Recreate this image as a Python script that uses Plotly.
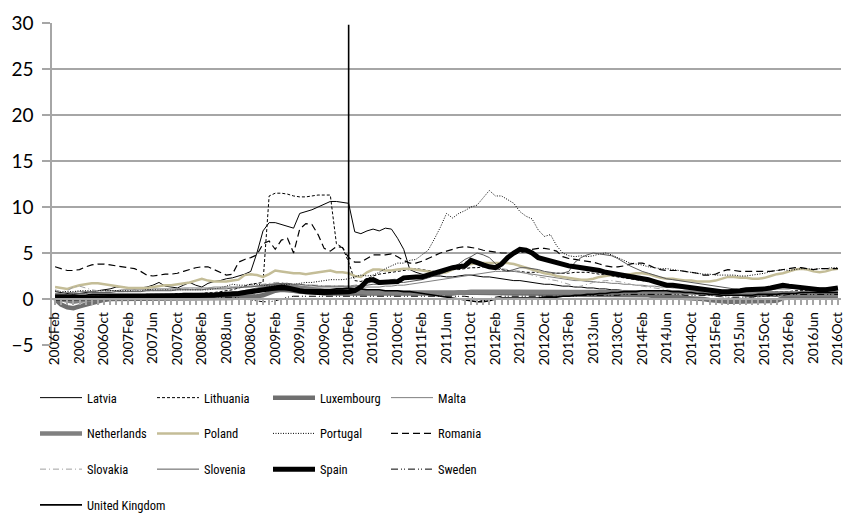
import pandas as pd
import plotly.graph_objects as go

# ---------------- data ----------------
MONTHS = pd.date_range("2006-02-01", periods=129, freq="MS").strftime("%Y%b").tolist()
TICK_LABELS = [m if i % 4 == 0 else "" for i, m in enumerate(MONTHS)]

LATVIA = [0.8, 0.7, 0.6, 0.5, 0.6, 0.7, 0.8, 0.9, 1.0, 1.1, 1.3,
          1.3, 1.2, 1.1, 1.2, 1.3, 1.5, 1.8, 1.4, 1.3, 1.2, 1.5, 1.8,
          1.5, 1.3, 1.7, 1.9, 2.0, 2.2, 2.3, 2.5, 2.7, 3.0, 5.0, 7.4,
          8.3, 8.3, 8.1, 7.9, 7.7, 9.3, 9.5, 9.7, 10.0, 10.3, 10.6, 10.6,
          10.5, 10.4, 7.3, 7.1, 7.4, 7.6, 7.4, 7.7, 7.6, 6.6, 5.4, 3.2,
          2.9, 2.7, 2.6, 2.5, 2.5, 2.4, 2.4, 2.5, 2.6, 2.6, 2.5, 2.4,
          2.4, 2.3, 2.2, 2.1, 2.0, 2.0, 1.9, 1.8, 1.7, 1.6, 1.6, 1.5,
          1.4, 1.4, 1.3, 1.3, 1.2, 1.2, 1.1, 1.1, 1.0, 1.0, 0.9, 0.9,
          0.9, 0.8, 0.8, 0.8, 0.7, 0.7, 0.7, 0.6, 0.6, 0.6, 0.5, 0.5,
          0.5, 0.5, 0.4, 0.4, 0.4, 0.4, 0.3, 0.3, 0.3, 0.3, 0.3, 0.3,
          0.4, 0.4, 0.4, 0.5, 0.5, 0.5, 0.5, 0.6, 0.6, 0.6]

LITHUANIA = [0.3, 0.3, 0.2, 0.2, 0.2, 0.3, 0.3, 0.3, 0.3, 0.3, 0.4,
             0.4, 0.4, 0.4, 0.4, 0.5, 0.5, 0.5, 0.5, 0.5, 0.6, 0.6, 0.6,
             0.6, 0.6, 0.7, 0.7, 0.8, 0.9, 1.0, 1.2, 1.4, 1.6, 1.7, 1.8,
             11.2, 11.5, 11.5, 11.4, 11.2, 11.1, 11.1, 11.2, 11.3, 11.3, 11.3, 6.0,
             5.6, 4.0, 2.0, 1.9, 2.2, 2.5, 2.7, 2.8, 2.9, 3.0, 3.1, 3.2,
             3.3, 3.2, 3.1, 3.0, 3.0, 3.1, 3.2, 3.2, 3.3, 3.4, 3.4, 3.5,
             3.4, 3.3, 3.2, 3.1, 3.0, 3.0, 2.9, 2.9, 2.9, 2.8, 2.8, 2.8,
             2.8, 2.8, 2.9, 2.9, 2.9, 2.8, 2.7, 2.6, 2.5, 2.4, 2.3, 2.2,
             2.1, 2.0, 1.9, 1.8, 1.7, 1.6, 1.5, 1.4, 1.3, 1.2, 1.1, 1.0,
             1.0, 0.9, 0.9, 0.8, 0.8, 0.8, 0.7, 0.7, 0.7, 0.7, 0.7, 0.8,
             0.8, 0.8, 0.9, 0.9, 0.9, 1.0, 1.0, 1.0, 1.0, 1.1]

LUXEMBOURG = [0.0, -0.6, -0.9, -1.0, -0.8, -0.6, -0.4, -0.2, -0.1, 0.0, 0.0,
              0.0, 0.0, 0.0, 0.0, 0.0, 0.0, 0.0, 0.1, 0.1, 0.1, 0.1, 0.1,
              0.1, 0.1, 0.1, 0.1, 0.1, 0.1, 0.1, 0.2, 0.2, 0.2, 0.3, 0.4,
              0.7, 0.9, 1.0, 1.0, 0.9, 0.8, 0.8, 0.7, 0.7, 0.6, 0.6, 0.6,
              0.6, 0.6, 0.5, 0.5, 0.5, 0.5, 0.5, 0.5, 0.5, 0.5, 0.5, 0.5,
              0.5, 0.5, 0.5, 0.6, 0.6, 0.6, 0.6, 0.7, 0.7, 0.7, 0.7, 0.7,
              0.7, 0.6, 0.6, 0.6, 0.7, 0.7, 0.7, 0.6, 0.6, 0.5, 0.5, 0.5,
              0.4, 0.4, 0.4, 0.4, 0.4, 0.4, 0.4, 0.4, 0.4, 0.4, 0.4, 0.4,
              0.4, 0.4, 0.4, 0.3, 0.3, 0.3, 0.2, 0.2, 0.1, 0.1, 0.0, 0.0,
              -0.1, -0.2, -0.3, -0.3, -0.3, -0.3, -0.3, -0.3, -0.3, -0.3, -0.2, -0.2,
              0.1, 0.2, 0.2, 0.2, 0.2, 0.2, 0.2, 0.2, 0.2, 0.2]

MALTA = [0.6, 0.6, 0.7, 0.7, 0.8, 0.8, 0.8, 0.9, 0.9, 0.9, 0.9,
         1.0, 1.0, 1.0, 1.0, 1.0, 1.1, 1.1, 1.1, 1.1, 1.1, 1.2, 1.2,
         1.2, 1.2, 1.2, 1.3, 1.3, 1.3, 1.3, 1.3, 1.3, 1.4, 1.4, 1.4,
         1.4, 1.4, 1.4, 1.4, 1.4, 1.3, 1.3, 1.3, 1.3, 1.3, 1.3, 1.3,
         1.3, 1.3, 1.3, 1.3, 1.3, 1.3, 1.3, 1.4, 1.4, 1.5, 1.5, 1.6,
         1.7, 1.8, 1.9, 2.0, 2.1, 2.2, 2.3, 2.4, 2.5, 2.6, 2.7, 2.8,
         2.9, 3.0, 3.0, 3.0, 3.0, 2.9, 2.8, 2.7, 2.6, 2.5, 2.4, 2.3,
         2.2, 2.1, 2.0, 2.0, 1.9, 1.9, 1.8, 1.8, 1.7, 1.7, 1.6, 1.6,
         1.5, 1.5, 1.4, 1.4, 1.3, 1.3, 1.2, 1.2, 1.1, 1.1, 1.0, 1.0,
         1.0, 0.9, 0.9, 0.9, 0.8, 0.8, 0.8, 0.8, 0.8, 0.8, 0.8, 0.8,
         0.8, 0.8, 0.8, 0.8, 0.8, 0.8, 0.8, 0.8, 0.8, 0.8]

NETHERLANDS = [0.1, 0.0, -0.2, -0.3, -0.2, -0.1, 0.0, 0.1, 0.1, 0.2, 0.2,
               0.2, 0.2, 0.2, 0.3, 0.3, 0.3, 0.3, 0.3, 0.3, 0.3, 0.3, 0.3,
               0.4, 0.4, 0.4, 0.4, 0.4, 0.5, 0.5, 0.6, 0.7, 0.8, 1.0, 1.2,
               1.4, 1.5, 1.5, 1.4, 1.3, 1.2, 1.1, 1.0, 1.0, 0.9, 0.9, 0.9,
               0.9, 0.8, 0.8, 0.8, 0.7, 0.7, 0.7, 0.7, 0.7, 0.7, 0.7, 0.7,
               0.6, 0.6, 0.6, 0.6, 0.6, 0.6, 0.6, 0.7, 0.7, 0.8, 0.8, 0.8,
               0.8, 0.8, 0.8, 0.8, 0.8, 0.8, 0.8, 0.7, 0.7, 0.7, 0.7, 0.7,
               0.7, 0.7, 0.7, 0.7, 0.7, 0.8, 0.8, 0.8, 0.8, 0.8, 0.8, 0.8,
               0.8, 0.8, 0.8, 0.8, 0.8, 0.8, 0.7, 0.7, 0.7, 0.7, 0.7, 0.6,
               0.6, 0.5, 0.5, 0.5, 0.5, 0.5, 0.5, 0.5, 0.5, 0.5, 0.5, 0.5,
               0.5, 0.5, 0.5, 0.5, 0.5, 0.5, 0.5, 0.5, 0.5, 0.5]

POLAND = [1.3, 1.2, 1.1, 1.3, 1.5, 1.6, 1.7, 1.7, 1.6, 1.5, 1.4,
          1.3, 1.2, 1.2, 1.2, 1.2, 1.3, 1.4, 1.5, 1.5, 1.6, 1.7, 1.8,
          2.0, 2.2, 2.0, 1.9, 1.9, 1.9, 2.0, 2.1, 2.6, 2.7, 2.6, 2.4,
          2.7, 3.1, 3.0, 2.9, 2.8, 2.8, 2.7, 2.8, 2.9, 3.0, 3.1, 2.9,
          2.9, 2.8, 2.5, 2.4, 2.9, 3.2, 3.2, 3.1, 3.1, 3.2, 3.3, 3.3,
          3.2, 3.1, 3.0, 2.9, 2.8, 2.9, 3.2, 3.5, 3.7, 3.8, 3.9, 3.9,
          3.9, 3.9, 3.9, 3.9, 3.8, 3.6, 3.4, 3.2, 3.0, 2.8, 2.7, 2.5,
          2.4, 2.3, 2.2, 2.1, 2.1, 2.2, 2.4, 2.5, 2.6, 2.6, 2.6, 2.7,
          2.8, 2.8, 2.7, 2.5, 2.3, 2.2, 2.2, 2.1, 2.0, 2.0, 1.9, 1.9,
          1.9, 2.0, 2.2, 2.4, 2.4, 2.3, 2.3, 2.2, 2.2, 2.3, 2.5, 2.7,
          2.8, 3.0, 3.2, 3.3, 3.2, 3.0, 2.9, 3.0, 3.2, 3.3]

PORTUGAL = [0.9, 0.8, 0.8, 0.8, 0.9, 0.9, 0.9, 0.9, 0.9, 0.9, 0.9,
            0.9, 0.9, 0.9, 0.9, 1.0, 1.0, 1.0, 1.0, 1.0, 1.0, 1.0, 1.0,
            1.0, 1.0, 1.0, 1.1, 1.2, 1.4, 1.6, 1.5, 1.5, 1.6, 1.6, 1.5,
            1.4, 1.4, 1.5, 1.6, 1.6, 1.7, 1.8, 1.8, 1.9, 2.0, 2.1, 2.1,
            2.1, 2.2, 2.4, 2.6, 2.5, 2.6, 2.9, 3.3, 3.6, 3.9, 3.9, 4.2,
            4.3, 4.8, 5.3, 6.5, 7.8, 9.3, 8.8, 9.3, 9.6, 10.0, 10.2, 11.0,
            11.8, 11.2, 11.2, 10.8, 10.4, 9.5, 9.0, 8.7, 7.5, 6.8, 7.0, 5.8,
            5.0, 4.7, 4.6, 4.7, 4.6, 4.7, 4.9, 5.0, 4.8, 4.5, 4.2, 3.9,
            3.8, 3.7, 3.5, 3.4, 3.3, 3.3, 3.2, 3.1, 3.0, 2.9, 2.8, 2.7,
            2.7, 2.6, 2.6, 2.6, 2.6, 2.5, 2.5, 2.6, 2.7, 2.8, 3.0, 3.1,
            3.2, 3.1, 3.2, 3.3, 3.3, 3.2, 3.3, 3.3, 3.4, 3.4]

ROMANIA = [3.5, 3.3, 3.1, 3.1, 3.2, 3.5, 3.7, 3.8, 3.8, 3.7, 3.6,
           3.5, 3.4, 3.3, 3.0, 2.6, 2.5, 2.6, 2.7, 2.7, 2.8, 3.0, 3.2,
           3.4, 3.5, 3.5, 3.2, 2.9, 2.6, 2.7, 4.0, 4.3, 4.5, 4.8, 6.0,
           6.3, 5.4, 6.4, 6.6, 5.0, 7.6, 8.2, 8.1, 7.0, 5.5, 5.2, 5.7,
           5.6, 4.5, 4.0, 4.0, 4.4, 4.8, 4.8, 4.8, 4.9, 4.6, 4.2, 3.9,
           3.9, 4.1, 4.4, 4.7, 5.0, 5.2, 5.4, 5.6, 5.7, 5.6, 5.5, 5.3,
           5.2, 5.1, 5.0, 5.0, 4.9, 5.0, 5.2, 5.4, 5.5, 5.5, 5.4, 5.2,
           4.6, 4.4, 4.3, 4.2, 4.1, 4.0, 3.8, 3.6, 3.5, 3.5, 3.6, 3.8,
           3.9, 3.9, 3.7, 3.4, 3.2, 3.1, 3.1, 3.1, 3.0, 2.9, 2.8, 2.6,
           2.6, 2.7, 3.0, 3.2, 3.1, 3.0, 3.0, 3.0, 3.0, 3.0, 3.0, 3.1,
           3.2, 3.3, 3.4, 3.4, 3.3, 3.2, 3.3, 3.3, 3.3, 3.3]

SLOVAKIA = [1.0, 0.8, 0.9, 1.3, 1.4, 1.2, 1.0, 0.9, 0.8, 0.8, 0.8,
            0.8, 0.8, 0.9, 0.9, 0.9, 0.9, 1.0, 1.0, 1.0, 1.0, 1.1, 1.1,
            1.1, 1.1, 1.2, 1.2, 1.2, 1.3, 1.3, 1.3, 1.4, 1.4, 1.5, 1.6,
            1.7, 1.8, 1.8, 1.7, 1.6, 1.6, 1.5, 1.5, 1.5, 1.4, 1.4, 1.4,
            1.4, 1.4, 1.5, 1.6, 1.7, 1.8, 1.9, 2.0, 2.1, 2.2, 2.3, 2.4,
            2.5, 2.6, 2.7, 2.9, 3.1, 3.3, 3.5, 3.8, 4.0, 4.3, 4.0, 3.6,
            3.5, 3.4, 3.3, 3.2, 3.1, 3.0, 2.8, 2.6, 2.4, 2.3, 2.1, 2.0,
            1.8, 1.6, 1.3, 1.4, 1.6, 1.8, 1.9, 2.0, 2.0, 1.9, 1.8, 1.6,
            1.5, 1.4, 1.3, 1.2, 1.1, 1.0, 0.9, 0.8, 0.7, 0.6, 0.5, 0.5,
            0.4, 0.3, 0.2, 0.2, 0.1, 0.1, 0.1, 0.2, 0.2, 0.3, 0.3, 0.4,
            0.4, 0.5, 0.5, 0.6, 0.6, 0.6, 0.6, 0.7, 0.7, 0.7]

SLOVENIA = [0.5, 0.5, 0.5, 0.6, 0.6, 0.6, 0.7, 0.7, 0.7, 0.7, 0.8,
            0.8, 0.8, 0.8, 0.8, 0.9, 0.9, 0.9, 0.9, 0.9, 1.0, 1.0, 1.0,
            1.0, 1.0, 1.1, 1.1, 1.1, 1.1, 1.2, 1.2, 1.3, 1.3, 1.4, 1.5,
            1.6, 1.6, 1.7, 1.7, 1.6, 1.6, 1.5, 1.5, 1.4, 1.4, 1.4, 1.4,
            1.4, 1.4, 1.4, 1.5, 1.5, 1.6, 1.6, 1.7, 1.7, 1.8, 1.8, 1.9,
            2.0, 2.1, 2.3, 2.5, 2.7, 3.0, 3.4, 3.8, 4.3, 4.6, 5.0, 4.8,
            4.5, 3.8, 3.2, 3.0, 3.2, 3.4, 3.4, 3.3, 3.2, 3.0, 2.9, 2.8,
            2.8, 3.0, 4.0, 4.5, 4.8, 5.0, 4.9, 4.8, 4.7, 4.4, 4.0, 3.6,
            3.3, 3.0, 2.8, 2.6, 2.4, 2.2, 2.1, 2.0, 1.9, 1.8, 1.7, 1.6,
            1.5, 1.4, 1.3, 1.2, 1.1, 1.0, 1.0, 1.0, 1.0, 1.0, 1.0, 1.1,
            1.1, 1.1, 1.2, 1.2, 1.2, 1.2, 1.2, 1.2, 1.2, 1.2]

SPAIN = [0.1, 0.1, 0.1, 0.1, 0.1, 0.1, 0.2, 0.2, 0.2, 0.2, 0.2,
         0.2, 0.2, 0.2, 0.2, 0.3, 0.3, 0.3, 0.3, 0.3, 0.3, 0.4, 0.4,
         0.4, 0.4, 0.4, 0.4, 0.5, 0.5, 0.5, 0.6, 0.7, 0.8, 0.9, 1.1,
         1.2, 1.3, 1.3, 1.2, 1.0, 0.9, 0.8, 0.7, 0.7, 0.7, 0.7, 0.8,
         0.8, 0.8, 0.9, 1.3, 2.0, 2.1, 1.8, 1.8, 1.8, 1.9, 2.3, 2.4,
         2.4, 2.4, 2.6, 2.9, 3.1, 3.3, 3.4, 3.5, 3.6, 4.2, 3.9, 3.7,
         3.5, 3.4, 3.8, 4.5, 5.0, 5.4, 5.3, 5.0, 4.5, 4.3, 4.2, 3.9,
         3.7, 3.6, 3.5, 3.4, 3.4, 3.3, 3.1, 2.9, 2.8, 2.7, 2.6, 2.5,
         2.4, 2.3, 2.1, 1.9, 1.7, 1.5, 1.5, 1.4, 1.3, 1.2, 1.2, 1.1,
         1.0, 0.9, 0.8, 0.8, 0.8, 0.9, 1.0, 1.0, 1.0, 1.1, 1.2, 1.4,
         1.5, 1.4, 1.3, 1.3, 1.2, 1.1, 1.0, 1.0, 1.1, 1.2]

SWEDEN = [0.3, 0.3, 0.3, 0.3, 0.3, 0.3, 0.3, 0.3, 0.3, 0.3, 0.3,
          0.3, 0.3, 0.3, 0.3, 0.3, 0.3, 0.3, 0.3, 0.3, 0.3, 0.3, 0.3,
          0.3, 0.3, 0.3, 0.3, 0.2, 0.2, 0.2, 0.1, 0.0, -0.1, -0.2, -0.3,
          -0.3, -0.2, 0.0, 0.2, 0.3, 0.3, 0.3, 0.3, 0.3, 0.3, 0.3, 0.3,
          0.3, 0.3, 0.3, 0.3, 0.3, 0.3, 0.3, 0.3, 0.3, 0.3, 0.3, 0.3,
          0.3, 0.3, 0.3, 0.3, 0.3, 0.3, 0.3, 0.3, 0.3, 0.2, 0.0, -0.2,
          0.0, 0.2, 0.3, 0.3, 0.3, 0.3, 0.3, 0.3, 0.3, 0.3, 0.3, 0.3,
          0.3, 0.3, 0.3, 0.4, 0.4, 0.4, 0.4, 0.4, 0.4, 0.4, 0.5, 0.5,
          0.5, 0.5, 0.5, 0.5, 0.5, 0.5, 0.5, 0.5, 0.4, 0.4, 0.4, 0.4,
          0.4, 0.3, 0.3, 0.2, 0.2, 0.2, 0.2, 0.2, 0.3, 0.3, 0.4, 0.4,
          0.4, 0.5, 0.5, 0.5, 0.5, 0.5, 0.5, 0.5, 0.5, 0.5]

UNITED_KINGDOM = [0.4, 0.4, 0.4, 0.4, 0.4, 0.4, 0.5, 0.5, 0.5, 0.5, 0.5,
                  0.5, 0.5, 0.5, 0.5, 0.5, 0.5, 0.5, 0.5, 0.5, 0.5, 0.6, 0.6,
                  0.6, 0.6, 0.6, 0.6, 0.6, 0.6, 0.7, 0.7, 0.8, 0.9, 1.0, 1.0,
                  1.0, 1.0, 1.0, 1.0, 1.0, 1.0, 1.0, 1.0, 1.0, 1.0, 1.0, 1.1,
                  1.1, 1.2, 1.1, 1.1, 1.0, 1.0, 1.0, 0.9, 0.9, 0.9, 0.8, 0.8,
                  0.7, 0.6, 0.5, 0.4, 0.3, 0.2, 0.1, 0.0, -0.1, -0.2, -0.3, -0.3,
                  -0.2, 0.0, 0.1, 0.1, 0.1, 0.1, 0.1, 0.1, 0.1, 0.2, 0.2, 0.2,
                  0.3, 0.3, 0.4, 0.4, 0.5, 0.5, 0.6, 0.6, 0.7, 0.7, 0.8, 0.8,
                  0.8, 0.9, 0.9, 0.9, 0.9, 0.9, 0.8, 0.8, 0.7, 0.7, 0.6, 0.6,
                  0.5, 0.5, 0.4, 0.4, 0.4, 0.4, 0.4, 0.4, 0.5, 0.5, 0.5, 0.5,
                  0.6, 0.6, 0.6, 0.7, 0.7, 0.7, 0.7, 0.7, 0.7, 0.7]
UK_SPIKE_MONTH = "2010Feb"
UK_SPIKE_VALUE = 29.8

for s in (LATVIA, LITHUANIA, LUXEMBOURG, MALTA, NETHERLANDS, POLAND, PORTUGAL,
          ROMANIA, SLOVAKIA, SLOVENIA, SPAIN, SWEDEN, UNITED_KINGDOM):
    assert len(s) == len(MONTHS), len(s)

# UK series: the spike month is visited three times (base -> peak -> base)
k = MONTHS.index(UK_SPIKE_MONTH)
UK_X = MONTHS[:k + 1] + [UK_SPIKE_MONTH, UK_SPIKE_MONTH] + MONTHS[k + 1:]
UK_Y = UNITED_KINGDOM[:k + 1] + [UK_SPIKE_VALUE, UNITED_KINGDOM[k]] + UNITED_KINGDOM[k + 1:]

# ---------------- styling ----------------
SERIES = [
    # name, x, y, color, width, dash, legend
    ("Latvia", MONTHS, LATVIA, "#000000", 1.0, "solid", "legend"),
    ("Lithuania", MONTHS, LITHUANIA, "#000000", 1.0, "3px,2px", "legend2"),
    ("Luxembourg", MONTHS, LUXEMBOURG, "#6f6f6f", 4.5, "solid", "legend3"),
    ("Malta", MONTHS, MALTA, "#7f7f7f", 1.0, "solid", "legend4"),
    ("Netherlands", MONTHS, NETHERLANDS, "#808080", 4.5, "solid", "legend"),
    ("Poland", MONTHS, POLAND, "#c4bd97", 2.5, "solid", "legend2"),
    ("Portugal", MONTHS, PORTUGAL, "#000000", 1.0, "1px,1.5px", "legend3"),
    ("Romania", MONTHS, ROMANIA, "#000000", 1.2, "7px,4px", "legend4"),
    ("Slovakia", MONTHS, SLOVAKIA, "#a0a0a0", 1.0, "6px,3px,1px,3px", "legend"),
    ("Slovenia", MONTHS, SLOVENIA, "#595959", 1.0, "solid", "legend2"),
    ("Spain", MONTHS, SPAIN, "#000000", 5.0, "solid", "legend3"),
    ("Sweden", MONTHS, SWEDEN, "#000000", 1.0, "7px,3px,1px,2px,1px,3px", "legend4"),
    ("United Kingdom", UK_X, UK_Y, "#000000", 1.6, "solid", "legend"),
]

FONT = "Lato, 'Open Sans', sans-serif"
LEG_FONT = "'Liberation Sans Narrow', 'Roboto Condensed', Roboto, sans-serif"
GRID = "#a6a6a6"

fig = go.Figure()
for name, xs, ys, color, width, dash, leg in SERIES:
    fig.add_trace(go.Scatter(
        x=xs, y=ys, name=name, mode="lines", legend=leg, legendgroup=name,
        line=dict(color=color, width=width, dash=dash),
    ))

W, H = 844, 513
ML, MR, MT, MB = 52, 3, 23, 168
PW = W - ML - MR
PH = H - MT - MB

def lx(px):
    return (px - ML) / PW

def ly(py):
    return (H - MB - py) / PH

leg_common = dict(
    orientation="v", yanchor="top", xanchor="left", y=ly(383),
    font=dict(family=LEG_FONT, size=12.5, color="#000000"),
    bgcolor="rgba(0,0,0,0)", borderwidth=0, tracegroupgap=16.5, itemwidth=42,
    traceorder="grouped",
)

fig.update_layout(
    width=W, height=H,
    margin=dict(l=ML, r=MR, t=MT, b=MB, pad=0, autoexpand=False),
    paper_bgcolor="white", plot_bgcolor="white",
    font=dict(family=FONT, color="#000000"),
    showlegend=True,
    legend=dict(x=lx(35), **leg_common),
    legend2=dict(x=lx(152), **leg_common),
    legend3=dict(x=lx(268), **leg_common),
    legend4=dict(x=lx(386), **leg_common),
    xaxis=dict(
        type="category", categoryorder="array", categoryarray=MONTHS,
        range=[-0.5, len(MONTHS) - 0.5], automargin=False,
        tickmode="array", tickvals=MONTHS, ticktext=TICK_LABELS,
        tickangle=-90, tickfont=dict(family=FONT, size=13.5),
        ticks="outside", ticklen=5, tickcolor=GRID, tickwidth=1.5,
        showline=True, linecolor=GRID, linewidth=1.5,
        showgrid=False, zeroline=False,
        anchor="free", position=5 / 35, ticklabelstandoff=2,
    ),
    yaxis=dict(
        range=[-5, 30], dtick=5, tick0=0, automargin=False,
        tickfont=dict(family=FONT, size=19),
        ticks="outside", ticklen=8, tickcolor=GRID, tickwidth=1.5,
        showline=True, linecolor=GRID, linewidth=1.5,
        showgrid=True, gridcolor=GRID, gridwidth=1.5,
        zeroline=False, ticklabelstandoff=5,
    ),
)

fig.write_html(
    "out.html",
    config={"displayModeBar": False},
    post_script="document.body.style.margin='0';document.body.style.overflow='hidden';",
)
